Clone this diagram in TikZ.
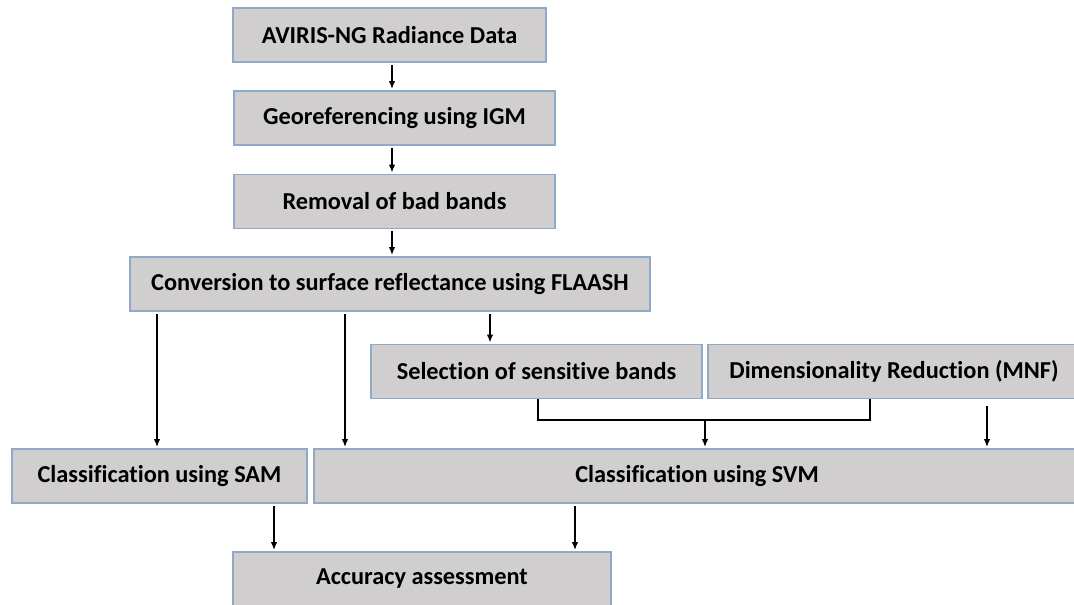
\documentclass[tikz,border=0pt]{standalone}
\usepackage{fontspec}
\setmainfont{Carlito}[Ligatures=NoCommon]
\usepackage{tikz}
\usetikzlibrary{positioning,arrows.meta,calc}
\usepackage{xcolor}
\definecolor{boxgray}{HTML}{D0CECE}
\definecolor{edgeblue}{HTML}{8FA9C9}

\begin{document}
\begin{tikzpicture}[x=0.025cm, y=-0.025cm,
    stepbox/.style={draw=edgeblue, line width=1pt, fill=boxgray, minimum height=1.35cm,
        inner sep=0pt, font=\fontsize{17.3}{20}\selectfont\bfseries},
    arr/.style={-{Latex[length=5.5pt,width=4.5pt]}, line width=0.8pt, shorten <=1.5pt, shorten >=1pt},
    joint/.style={line width=0.8pt}]
    \useasboundingbox (0,0) rectangle (1074,605);
    \clip (0,0) rectangle (1074,605);

    % main chain
    \node[stepbox, minimum width=7.825cm] (avi) at (389.5,35) {AVIRIS-NG Radiance Data};
    \node[stepbox, minimum width=8.025cm] (geo) at (394.5,118) {Georeferencing using IGM};
    \node[stepbox, minimum width=8.025cm] (bad) at (394.5,201.5) {Removal of bad bands};
    \node[stepbox, minimum width=13cm] (flaash) at (390,284) {Conversion to surface reflectance using FLAASH};

    % band selection / reduction
    \node[stepbox, minimum width=8.275cm] (sel) at (536.5,371.5) {Selection of sensitive bands};
    \node[stepbox, minimum width=9.3cm] (mnf) at (894,371.5) {Dimensionality Reduction (MNF)};

    % classifiers
    \node[stepbox, minimum width=7.375cm] (sam) at (159.5,476) {Classification using SAM};
    \node[stepbox, minimum width=19.15cm] (svm) at (697,476) {Classification using SVM};
    \node[stepbox, minimum width=9.45cm] (acc) at (422,579) {Accuracy assessment};

    % columns of the connectors
    \coordinate (xm) at (392,0);
    \coordinate (xs) at (490,0);
    \coordinate (xa) at (157,0);
    \coordinate (xb) at (345,0);
    \coordinate (xl) at (538,0);
    \coordinate (xr) at (870,0);
    \coordinate (xj) at (705,0);
    \coordinate (xd) at (987,0);
    \coordinate (xp) at (274,0);
    \coordinate (xq) at (575,0);
    \coordinate (yj) at (0,420);

    \draw[arr] (avi.south -| xm) -- (geo.north -| xm);
    \draw[arr] (geo.south -| xm) -- (bad.north -| xm);
    \draw[arr] (bad.south -| xm) -- (flaash.north -| xm);
    \draw[arr] (flaash.south -| xs) -- (sel.north -| xs);
    \draw[arr] (flaash.south -| xa) -- (sam.north -| xa);
    \draw[arr] (flaash.south -| xb) -- (svm.north -| xb);

    \draw[joint] (sel.south -| xl) -- (xl |- yj) -- (xr |- yj) -- (mnf.south -| xr);
    \draw[arr, shorten <=0pt] (xj |- yj) -- (svm.north -| xj);
    \draw[arr, shorten <=5pt] (mnf.south -| xd) -- (svm.north -| xd);

    \draw[arr] (sam.south -| xp) -- (acc.north -| xp);
    \draw[arr] (svm.south -| xq) -- (acc.north -| xq);
\end{tikzpicture}
\end{document}
